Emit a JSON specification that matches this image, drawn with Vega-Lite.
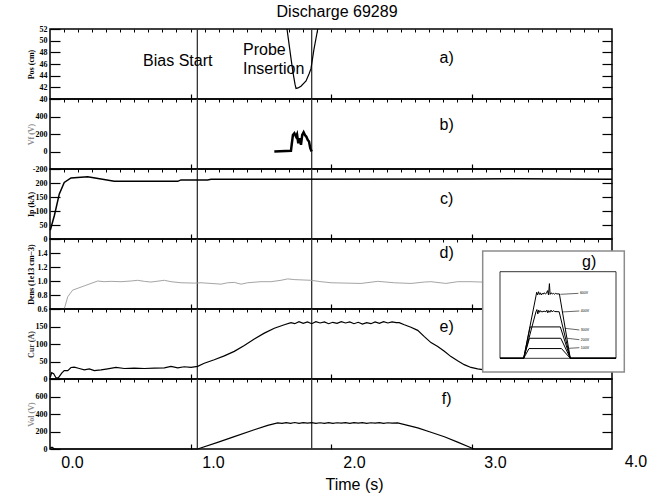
{
 "$schema": "https://vega.github.io/schema/vega-lite/v6.json",
 "background": "white",
 "padding": {"left": 26, "top": 4, "right": 5, "bottom": 3},
 "title": {"text": "Discharge 69289", "font": "Liberation Sans", "fontSize": 16, "fontWeight": "normal", "color": "black", "anchor": "middle", "offset": 4},
 "spacing": 0,
 "bounds": "flush",
 "resolve": {"scale": {"x": "independent", "y": "independent"}},
 "datasets": {
  "events": [{"event": "Bias Start", "t": 0.889}, {"event": "Probe Insertion", "t": 1.700}],
  "notes": [{"note": "Bias Start", "t": 0.504, "v": 46.54}, {"note": "Probe", "t": 1.213, "v": 48.41}, {"note": "Insertion", "t": 1.213, "v": 45.17}],
  "pos": [{"t":1.525,"v":52},{"t":1.539,"v":49.5},{"t":1.553,"v":47},{"t":1.567,"v":44.6},{"t":1.582,"v":42.5},{"t":1.589,"v":41.8},{"t":1.603,"v":41.9},{"t":1.624,"v":42.2},{"t":1.660,"v":43.1},{"t":1.681,"v":44.3},{"t":1.695,"v":45.2},{"t":1.716,"v":48.5},{"t":1.743,"v":52}],
  "vf": [{"t":1.435,"v":0},{"t":1.553,"v":8},{"t":1.558,"v":76},{"t":1.567,"v":189},{"t":1.577,"v":208},{"t":1.589,"v":170},{"t":1.596,"v":196},{"t":1.605,"v":94},{"t":1.615,"v":151},{"t":1.624,"v":76},{"t":1.633,"v":189},{"t":1.643,"v":219},{"t":1.652,"v":189},{"t":1.662,"v":170},{"t":1.672,"v":132},{"t":1.681,"v":113},{"t":1.690,"v":38},{"t":1.700,"v":0}],
  "ip": [{"t":-0.154,"v":31},{"t":-0.125,"v":84},{"t":-0.090,"v":161},{"t":-0.055,"v":202},{"t":-0.007,"v":218},{"t":0.111,"v":222},{"t":0.206,"v":214},{"t":0.300,"v":206},{"t":0.750,"v":206},{"t":0.773,"v":211},{"t":0.962,"v":211},{"t":0.986,"v":213},{"t":2.830,"v":214},{"t":3.161,"v":215},{"t":3.468,"v":214},{"t":3.830,"v":213}],
  "dens": [{"t":-0.055,"v":0.6},{"t":-0.030,"v":0.775},{"t":0.005,"v":0.87},{"t":0.087,"v":0.93},{"t":0.182,"v":1.0},{"t":0.227,"v":0.99},{"t":0.277,"v":0.995},{"t":0.348,"v":0.99},{"t":0.418,"v":1.0},{"t":0.466,"v":1.01},{"t":0.513,"v":0.995},{"t":0.560,"v":0.985},{"t":0.655,"v":1.01},{"t":0.702,"v":0.99},{"t":0.773,"v":0.975},{"t":0.867,"v":0.97},{"t":0.915,"v":0.975},{"t":0.986,"v":0.965},{"t":1.057,"v":0.955},{"t":1.104,"v":0.975},{"t":1.151,"v":0.98},{"t":1.199,"v":0.955},{"t":1.246,"v":0.975},{"t":1.340,"v":0.99},{"t":1.411,"v":0.99},{"t":1.482,"v":1.01},{"t":1.530,"v":1.03},{"t":1.577,"v":1.02},{"t":1.695,"v":1.01},{"t":1.766,"v":0.99},{"t":1.837,"v":0.975},{"t":1.943,"v":0.97},{"t":2.050,"v":0.965},{"t":2.168,"v":0.995},{"t":2.286,"v":0.975},{"t":2.404,"v":0.965},{"t":2.499,"v":0.985},{"t":2.546,"v":0.99},{"t":2.652,"v":0.965},{"t":2.735,"v":0.99},{"t":2.830,"v":0.99},{"t":2.908,"v":0.985},{"t":3.184,"v":1.0},{"t":3.468,"v":0.99},{"t":3.830,"v":1.0}],
  "cur": [{"t":-0.154,"v":5},{"t":-0.144,"v":18},{"t":-0.130,"v":15},{"t":-0.113,"v":3},{"t":-0.097,"v":3},{"t":-0.073,"v":17},{"t":-0.055,"v":24},{"t":-0.030,"v":24},{"t":-0.007,"v":33},{"t":0.016,"v":34},{"t":0.052,"v":30},{"t":0.087,"v":26},{"t":0.123,"v":29},{"t":0.158,"v":24},{"t":0.206,"v":26},{"t":0.253,"v":29},{"t":0.312,"v":33},{"t":0.371,"v":30},{"t":0.442,"v":31},{"t":0.513,"v":30},{"t":0.584,"v":31},{"t":0.655,"v":32},{"t":0.702,"v":36},{"t":0.750,"v":32},{"t":0.796,"v":35},{"t":0.844,"v":33},{"t":0.891,"v":36},{"t":0.938,"v":45},{"t":1.009,"v":55},{"t":1.080,"v":66},{"t":1.151,"v":79},{"t":1.222,"v":96},{"t":1.293,"v":114},{"t":1.364,"v":131},{"t":1.435,"v":145},{"t":1.506,"v":155},{"t":1.553,"v":161},{"t":1.58,"v":158},{"t":1.61,"v":164},{"t":1.64,"v":159},{"t":1.67,"v":163},{"t":1.70,"v":158},{"t":1.73,"v":164},{"t":1.76,"v":160},{"t":1.79,"v":163},{"t":1.82,"v":158},{"t":1.85,"v":162},{"t":1.88,"v":159},{"t":1.91,"v":164},{"t":1.94,"v":160},{"t":1.97,"v":163},{"t":2.00,"v":158},{"t":2.03,"v":162},{"t":2.06,"v":157},{"t":2.09,"v":161},{"t":2.12,"v":158},{"t":2.15,"v":163},{"t":2.18,"v":159},{"t":2.21,"v":164},{"t":2.24,"v":160},{"t":2.27,"v":163},{"t":2.30,"v":161},{"t":2.321,"v":161},{"t":2.357,"v":155},{"t":2.404,"v":148},{"t":2.452,"v":139},{"t":2.499,"v":121},{"t":2.546,"v":104},{"t":2.594,"v":93},{"t":2.641,"v":79},{"t":2.688,"v":64},{"t":2.735,"v":52},{"t":2.782,"v":41},{"t":2.830,"v":33},{"t":2.877,"v":29},{"t":2.924,"v":26},{"t":3.184,"v":24},{"t":3.645,"v":22},{"t":3.830,"v":23}],
  "vol": [{"t":-0.154,"v":10},{"t":-0.142,"v":20},{"t":-0.128,"v":5},{"t":-0.106,"v":0},{"t":0.891,"v":0},{"t":1.033,"v":75},{"t":1.151,"v":141},{"t":1.293,"v":220},{"t":1.388,"v":270},{"t":1.459,"v":298},{"t":1.49,"v":292},{"t":1.52,"v":302},{"t":1.55,"v":294},{"t":1.58,"v":303},{"t":1.61,"v":293},{"t":1.64,"v":301},{"t":1.67,"v":295},{"t":1.70,"v":302},{"t":1.73,"v":293},{"t":1.76,"v":300},{"t":1.79,"v":294},{"t":1.82,"v":302},{"t":1.85,"v":293},{"t":1.88,"v":300},{"t":1.91,"v":295},{"t":1.94,"v":302},{"t":1.97,"v":294},{"t":2.00,"v":301},{"t":2.03,"v":295},{"t":2.06,"v":302},{"t":2.09,"v":293},{"t":2.12,"v":300},{"t":2.15,"v":295},{"t":2.18,"v":302},{"t":2.21,"v":294},{"t":2.24,"v":300},{"t":2.27,"v":296},{"t":2.310,"v":298},{"t":2.452,"v":241},{"t":2.546,"v":192},{"t":2.641,"v":140},{"t":2.735,"v":79},{"t":2.830,"v":15},{"t":2.851,"v":0},{"t":3.830,"v":0}],
  "g": [
   {"s":"600V","t":0,"v":0},{"s":"600V","t":1.02,"v":0},{"s":"600V","t":1.55,"v":575},{"s":"600V","t":1.58,"v":610},{"s":"600V","t":1.62,"v":585},{"s":"600V","t":1.66,"v":615},{"s":"600V","t":1.70,"v":590},{"s":"600V","t":1.74,"v":605},{"s":"600V","t":1.78,"v":585},{"s":"600V","t":1.82,"v":600},{"s":"600V","t":1.86,"v":592},{"s":"600V","t":1.90,"v":605},{"s":"600V","t":1.95,"v":595},{"s":"600V","t":2.00,"v":600},{"s":"600V","t":2.05,"v":625},{"s":"600V","t":2.09,"v":585},{"s":"600V","t":2.13,"v":690},{"s":"600V","t":2.16,"v":590},{"s":"600V","t":2.20,"v":605},{"s":"600V","t":2.25,"v":595},{"s":"600V","t":2.30,"v":600},{"s":"600V","t":2.35,"v":592},{"s":"600V","t":2.40,"v":600},{"s":"600V","t":2.45,"v":595},{"s":"600V","t":2.56,"v":595},{"s":"600V","t":3.03,"v":0},{"s":"600V","t":5,"v":0},
   {"s":"400V","t":0,"v":0},{"s":"400V","t":1.02,"v":0},{"s":"400V","t":1.55,"v":430},{"s":"400V","t":1.59,"v":450},{"s":"400V","t":1.63,"v":410},{"s":"400V","t":1.67,"v":445},{"s":"400V","t":1.71,"v":425},{"s":"400V","t":1.75,"v":440},{"s":"400V","t":1.80,"v":428},{"s":"400V","t":1.90,"v":435},{"s":"400V","t":1.98,"v":430},{"s":"400V","t":2.02,"v":445},{"s":"400V","t":2.06,"v":420},{"s":"400V","t":2.10,"v":440},{"s":"400V","t":2.15,"v":425},{"s":"400V","t":2.20,"v":445},{"s":"400V","t":2.25,"v":428},{"s":"400V","t":2.30,"v":440},{"s":"400V","t":2.36,"v":432},{"s":"400V","t":2.55,"v":430},{"s":"400V","t":3.03,"v":0},{"s":"400V","t":5,"v":0},
   {"s":"300V","t":0,"v":0},{"s":"300V","t":1.02,"v":0},{"s":"300V","t":1.30,"v":290},{"s":"300V","t":2.60,"v":290},{"s":"300V","t":3.03,"v":0},{"s":"300V","t":5,"v":0},
   {"s":"200V","t":0,"v":0},{"s":"200V","t":1.02,"v":0},{"s":"200V","t":1.27,"v":185},{"s":"200V","t":2.62,"v":185},{"s":"200V","t":3.03,"v":0},{"s":"200V","t":5,"v":0},
   {"s":"100V","t":0,"v":0},{"s":"100V","t":1.02,"v":0},{"s":"100V","t":1.25,"v":90},{"s":"100V","t":2.65,"v":90},{"s":"100V","t":3.03,"v":0},{"s":"100V","t":5,"v":0}
  ],
  "gl": [{"label":"600V","t1":2.6,"v1":591,"t2":3.38,"v2":600},{"label":"400V","t1":2.67,"v1":428,"t2":3.42,"v2":437},{"label":"300V","t1":2.8,"v1":277,"t2":3.42,"v2":262},{"label":"200V","t1":2.89,"v1":185,"t2":3.42,"v2":172},{"label":"100V","t1":2.95,"v1":92,"t2":3.42,"v2":98}]
 },
 "vconcat": [
  {
   "width": 562, "height": 70,
   "layer": [
    {"data": {"name": "events"}, "mark": {"type": "rule", "color": "#333", "strokeWidth": 1.3},
     "encoding": {"x": {"field": "t", "type": "quantitative", "scale": {"domain": [-0.156, 3.83], "nice": false, "zero": false}, "axis": {"orient": "bottom", "values": [0.8405, 1.837, 2.8335], "labels": false, "tickSize": -5, "title": null}}}},
    {"data": {"name": "pos"}, "mark": {"type": "line", "color": "black", "strokeWidth": 1.2},
     "encoding": {"x": {"field": "t", "type": "quantitative", "scale": {"domain": [-0.156, 3.83], "nice": false, "zero": false}, "axis": {"orient": "top", "values": [-0.0564,0.0433,0.143,0.2426,0.3423,0.4419,0.5416,0.6412,0.7409,0.8405,0.9402,1.0398,1.1395,1.2391,1.3388,1.4384,1.5381,1.6377,1.7374,1.837,1.9367,2.0363,2.136,2.2356,2.3353,2.4349,2.5346,2.6342,2.7339,2.8335,2.9332,3.0328,3.1325,3.2321,3.3318,3.4314,3.5311,3.6307,3.7304], "labels": false, "tickSize": -3, "tickWidth": 1, "title": null}},
      "y": {"field": "v", "type": "quantitative", "scale": {"domain": [40, 52], "nice": false, "zero": false}, "axis": {"orient": "left", "values": [40,42,44,46,48,50,52], "labelExpr": "datum.value + ''", "tickSize": -10, "labelPadding": 13, "title": "Pos (cm)", "titleX": -19, "titleY": 35, "titleAngle": 270, "titleAlign": "center", "titleBaseline": "middle"}}}},
    {"data": {"name": "notes"}, "mark": {"type": "text", "align": "left", "baseline": "middle"},
     "encoding": {"x": {"field": "t", "type": "quantitative", "scale": {"domain": [-0.156, 3.83], "nice": false, "zero": false}, "axis": null},
      "y": {"field": "v", "type": "quantitative", "scale": {"domain": [40, 52], "nice": false, "zero": false}, "axis": null}, "text": {"field": "note"}}},
    {"data": {"values": [{}]}, "mark": {"type": "text", "align": "center", "baseline": "middle"},
     "encoding": {"x": {"datum": 2.657, "type": "quantitative", "scale": {"domain": [-0.156, 3.83], "nice": false, "zero": false}, "axis": null},
      "y": {"datum": 47.05, "type": "quantitative", "scale": {"domain": [40, 52], "nice": false, "zero": false}, "axis": {"orient": "right", "values": [42,44,46,48,50], "labels": false, "tickSize": -10, "title": null}}, "text": {"value": "a)"}}}
   ],
   "resolve": {"axis": {"x": "independent", "y": "independent"}}
  },
  {
   "width": 562, "height": 70,
   "layer": [
    {"data": {"name": "events"}, "mark": {"type": "rule", "color": "#333", "strokeWidth": 1.3},
     "encoding": {"x": {"field": "t", "type": "quantitative", "scale": {"domain": [-0.156, 3.83], "nice": false, "zero": false}, "axis": {"orient": "bottom", "values": [0.8405, 1.837, 2.8335], "labels": false, "tickSize": -5, "title": null}}}},
    {"data": {"name": "vf"}, "mark": {"type": "line", "color": "black", "strokeWidth": 2.5},
     "encoding": {"x": {"field": "t", "type": "quantitative", "scale": {"domain": [-0.156, 3.83], "nice": false, "zero": false}, "axis": {"orient": "top", "values": [-0.0564,0.0433,0.143,0.2426,0.3423,0.4419,0.5416,0.6412,0.7409,0.8405,0.9402,1.0398,1.1395,1.2391,1.3388,1.4384,1.5381,1.6377,1.7374,1.837,1.9367,2.0363,2.136,2.2356,2.3353,2.4349,2.5346,2.6342,2.7339,2.8335,2.9332,3.0328,3.1325,3.2321,3.3318,3.4314,3.5311,3.6307,3.7304], "labels": false, "tickSize": -3, "tickWidth": 1, "title": null}},
      "y": {"field": "v", "type": "quantitative", "scale": {"domain": [-200, 600], "nice": false, "zero": false}, "axis": {"orient": "left", "values": [-200,0,200,400], "labelExpr": "datum.value + ''", "tickSize": -10, "labelPadding": 13, "title": "Vf (V)", "titleColor": "#8a8a8a", "titleX": -19, "titleY": 35, "titleAngle": 270, "titleAlign": "center", "titleBaseline": "middle"}}}},
    {"data": {"values": [{}]}, "mark": {"type": "text", "align": "center", "baseline": "middle"},
     "encoding": {"x": {"datum": 2.657, "type": "quantitative", "scale": {"domain": [-0.156, 3.83], "nice": false, "zero": false}, "axis": null},
      "y": {"datum": 308, "type": "quantitative", "scale": {"domain": [-200, 600], "nice": false, "zero": false}, "axis": {"orient": "right", "values": [0,200,400], "labels": false, "tickSize": -10, "title": null}}, "text": {"value": "b)"}}}
   ],
   "resolve": {"axis": {"x": "independent", "y": "independent"}}
  },
  {
   "width": 562, "height": 70,
   "layer": [
    {"data": {"name": "events"}, "mark": {"type": "rule", "color": "#333", "strokeWidth": 1.3},
     "encoding": {"x": {"field": "t", "type": "quantitative", "scale": {"domain": [-0.156, 3.83], "nice": false, "zero": false}, "axis": {"orient": "bottom", "values": [0.8405, 1.837, 2.8335], "labels": false, "tickSize": -5, "title": null}}}},
    {"data": {"name": "ip"}, "mark": {"type": "line", "color": "black", "strokeWidth": 1.5},
     "encoding": {"x": {"field": "t", "type": "quantitative", "scale": {"domain": [-0.156, 3.83], "nice": false, "zero": false}, "axis": {"orient": "top", "values": [-0.0564,0.0433,0.143,0.2426,0.3423,0.4419,0.5416,0.6412,0.7409,0.8405,0.9402,1.0398,1.1395,1.2391,1.3388,1.4384,1.5381,1.6377,1.7374,1.837,1.9367,2.0363,2.136,2.2356,2.3353,2.4349,2.5346,2.6342,2.7339,2.8335,2.9332,3.0328,3.1325,3.2321,3.3318,3.4314,3.5311,3.6307,3.7304], "labels": false, "tickSize": -3, "tickWidth": 1, "title": null}},
      "y": {"field": "v", "type": "quantitative", "scale": {"domain": [0, 250], "nice": false, "zero": false}, "axis": {"orient": "left", "values": [0,50,100,150,200], "labelExpr": "datum.value + ''", "tickSize": -10, "labelPadding": 13, "title": "Ip (kA)", "titleX": -19, "titleY": 35, "titleAngle": 270, "titleAlign": "center", "titleBaseline": "middle"}}}},
    {"data": {"values": [{}]}, "mark": {"type": "text", "align": "center", "baseline": "middle"},
     "encoding": {"x": {"datum": 2.657, "type": "quantitative", "scale": {"domain": [-0.156, 3.83], "nice": false, "zero": false}, "axis": null},
      "y": {"datum": 142, "type": "quantitative", "scale": {"domain": [0, 250], "nice": false, "zero": false}, "axis": {"orient": "right", "values": [50,100,150,200], "labels": false, "tickSize": -10, "title": null}}, "text": {"value": "c)"}}}
   ],
   "resolve": {"axis": {"x": "independent", "y": "independent"}}
  },
  {
   "width": 562, "height": 70,
   "layer": [
    {"data": {"name": "events"}, "mark": {"type": "rule", "color": "#333", "strokeWidth": 1.3},
     "encoding": {"x": {"field": "t", "type": "quantitative", "scale": {"domain": [-0.156, 3.83], "nice": false, "zero": false}, "axis": {"orient": "bottom", "values": [0.8405, 1.837, 2.8335], "labels": false, "tickSize": -5, "title": null}}}},
    {"data": {"name": "dens"}, "mark": {"type": "line", "color": "#9a9a9a", "strokeWidth": 0.9},
     "encoding": {"x": {"field": "t", "type": "quantitative", "scale": {"domain": [-0.156, 3.83], "nice": false, "zero": false}, "axis": {"orient": "top", "values": [-0.0564,0.0433,0.143,0.2426,0.3423,0.4419,0.5416,0.6412,0.7409,0.8405,0.9402,1.0398,1.1395,1.2391,1.3388,1.4384,1.5381,1.6377,1.7374,1.837,1.9367,2.0363,2.136,2.2356,2.3353,2.4349,2.5346,2.6342,2.7339,2.8335,2.9332,3.0328,3.1325,3.2321,3.3318,3.4314,3.5311,3.6307,3.7304], "labels": false, "tickSize": -3, "tickWidth": 1, "title": null}},
      "y": {"field": "v", "type": "quantitative", "scale": {"domain": [0.6, 1.6], "nice": false, "zero": false}, "axis": {"orient": "left", "values": [0.6,0.8,1.0,1.2,1.4], "labelExpr": "format(datum.value, '.1f')", "tickSize": -10, "labelPadding": 13, "title": "Dens (1e13 cm−3)", "titleX": -19, "titleY": 35, "titleAngle": 270, "titleAlign": "center", "titleBaseline": "middle"}}}},
    {"data": {"values": [{}]}, "mark": {"type": "text", "align": "center", "baseline": "middle"},
     "encoding": {"x": {"datum": 2.657, "type": "quantitative", "scale": {"domain": [-0.156, 3.83], "nice": false, "zero": false}, "axis": null},
      "y": {"datum": 1.40, "type": "quantitative", "scale": {"domain": [0.6, 1.6], "nice": false, "zero": false}, "axis": {"orient": "right", "values": [0.8,1.0,1.2,1.4], "labels": false, "tickSize": -10, "title": null}}, "text": {"value": "d)"}}}
   ],
   "resolve": {"axis": {"x": "independent", "y": "independent"}}
  },
  {
   "width": 562, "height": 70,
   "layer": [
    {
     "layer": [
      {"data": {"name": "events"}, "mark": {"type": "rule", "color": "#333", "strokeWidth": 1.3},
       "encoding": {"x": {"field": "t", "type": "quantitative", "scale": {"domain": [-0.156, 3.83], "nice": false, "zero": false}, "axis": {"orient": "bottom", "values": [0.8405, 1.837, 2.8335], "labels": false, "tickSize": -5, "title": null}}}},
      {"data": {"name": "cur"}, "mark": {"type": "line", "color": "black", "strokeWidth": 1.2},
       "encoding": {"x": {"field": "t", "type": "quantitative", "scale": {"domain": [-0.156, 3.83], "nice": false, "zero": false}, "axis": {"orient": "top", "values": [-0.0564,0.0433,0.143,0.2426,0.3423,0.4419,0.5416,0.6412,0.7409,0.8405,0.9402,1.0398,1.1395,1.2391,1.3388,1.4384,1.5381,1.6377,1.7374,1.837,1.9367,2.0363,2.136,2.2356,2.3353,2.4349,2.5346,2.6342,2.7339,2.8335,2.9332,3.0328,3.1325,3.2321,3.3318,3.4314,3.5311,3.6307,3.7304], "labels": false, "tickSize": -3, "tickWidth": 1, "title": null}},
        "y": {"field": "v", "type": "quantitative", "scale": {"domain": [0, 200], "nice": false, "zero": false}, "axis": {"orient": "left", "values": [0,50,100,150], "labelExpr": "datum.value + ''", "tickSize": -10, "labelPadding": 13, "title": "Cur (A)", "titleColor": "#333", "titleX": -19, "titleY": 35, "titleAngle": 270, "titleAlign": "center", "titleBaseline": "middle"}}}},
      {"data": {"values": [{}]}, "mark": {"type": "text", "align": "center", "baseline": "middle"},
       "encoding": {"x": {"datum": 2.657, "type": "quantitative", "scale": {"domain": [-0.156, 3.83], "nice": false, "zero": false}, "axis": null},
        "y": {"datum": 149, "type": "quantitative", "scale": {"domain": [0, 200], "nice": false, "zero": false}, "axis": {"orient": "right", "values": [50,100,150], "labels": false, "tickSize": -10, "title": null}}, "text": {"value": "e)"}}}
     ],
     "resolve": {"axis": {"x": "independent", "y": "independent"}}
    },
    {
     "layer": [
      {"data": {"values": [{}]}, "mark": {"type": "rect", "fill": "white", "stroke": "#8c8c8c", "strokeWidth": 1.5},
       "encoding": {"x": {"datum": -0.746, "type": "quantitative", "scale": {"domain": [0, 5], "range": [450, 566], "nice": false, "zero": false}, "axis": null}, "x2": {"datum": 5.358},
        "y": {"datum": -126.6, "type": "quantitative", "scale": {"domain": [0, 800], "range": [49.3, -37.3], "nice": false, "zero": false}, "axis": null}, "y2": {"datum": 991}}},
      {"data": {"values": [{}]}, "mark": {"type": "rect", "filled": false, "fill": "transparent", "stroke": "black", "strokeWidth": 0.8},
       "encoding": {"x": {"datum": 0, "type": "quantitative", "scale": {"domain": [0, 5], "range": [450, 566], "nice": false, "zero": false}, "axis": null}, "x2": {"datum": 5},
        "y": {"datum": 0, "type": "quantitative", "scale": {"domain": [0, 800], "range": [49.3, -37.3], "nice": false, "zero": false}, "axis": null}, "y2": {"datum": 800}}},
      {"data": {"name": "g"}, "mark": {"type": "line", "color": "black", "strokeWidth": 1},
       "encoding": {"x": {"field": "t", "type": "quantitative", "scale": {"domain": [0, 5], "range": [450, 566], "nice": false, "zero": false},
         "axis": {"orient": "bottom", "offset": -20.7, "zindex": 2, "values": [0,1,2,3,4,5], "format": "d", "tickSize": -2, "tickWidth": 0.6, "labelPadding": 3, "labelFont": "Liberation Sans", "labelFontWeight": "normal", "labelFontSize": 4, "labelColor": "#444", "title": "Time (s)", "titleFont": "Liberation Sans", "titleFontWeight": "normal", "titleFontSize": 4, "titleColor": "#444", "titlePadding": 1}},
        "y": {"field": "v", "type": "quantitative", "scale": {"domain": [0, 800], "range": [49.3, -37.3], "nice": false, "zero": false},
         "axis": {"orient": "left", "offset": -450, "zindex": 2, "values": [0,200,400,600,800], "format": "d", "tickSize": -2, "tickWidth": 0.6, "labelPadding": 4, "labelFont": "Liberation Sans", "labelFontWeight": "normal", "labelFontSize": 4, "labelColor": "#444", "title": "Shot bias Voltage (V)", "titleFont": "Liberation Sans", "titleFontWeight": "normal", "titleFontSize": 4, "titleColor": "#444", "titleX": -14, "titleY": 6, "titleAngle": 270, "titleAlign": "center", "titleBaseline": "middle"}},
        "detail": {"field": "s"}}},
      {"data": {"name": "gl"}, "mark": {"type": "rule", "color": "black", "strokeWidth": 0.6},
       "encoding": {"x": {"field": "t1", "type": "quantitative", "scale": {"domain": [0, 5], "range": [450, 566], "nice": false, "zero": false}, "axis": null}, "x2": {"field": "t2"},
        "y": {"field": "v1", "type": "quantitative", "scale": {"domain": [0, 800], "range": [49.3, -37.3], "nice": false, "zero": false}, "axis": null}, "y2": {"field": "v2"}}},
      {"data": {"name": "gl"}, "mark": {"type": "text", "align": "left", "baseline": "middle", "fontSize": 3.5, "dx": 1.5, "color": "black"},
       "encoding": {"x": {"field": "t2", "type": "quantitative", "scale": {"domain": [0, 5], "range": [450, 566], "nice": false, "zero": false}, "axis": null},
        "y": {"field": "v2", "type": "quantitative", "scale": {"domain": [0, 800], "range": [49.3, -37.3], "nice": false, "zero": false}, "axis": null}, "text": {"field": "label"}}},
      {"data": {"values": [{}]}, "mark": {"type": "text", "align": "center", "baseline": "middle"},
       "encoding": {"x": {"datum": 3.84, "type": "quantitative", "scale": {"domain": [0, 5], "range": [450, 566], "nice": false, "zero": false}, "axis": null},
        "y": {"datum": 890, "type": "quantitative", "scale": {"domain": [0, 800], "range": [49.3, -37.3], "nice": false, "zero": false}, "axis": null}, "text": {"value": "g)"}}}
     ]
    }
   ],
   "resolve": {"scale": {"x": "independent", "y": "independent"}}
  },
  {
   "width": 562, "height": 70,
   "layer": [
    {"data": {"name": "events"}, "mark": {"type": "rule", "color": "#333", "strokeWidth": 1.3},
     "encoding": {"x": {"field": "t", "type": "quantitative", "scale": {"domain": [-0.156, 3.83], "nice": false, "zero": false}, "axis": {"orient": "bottom", "values": [0.8405, 1.837, 2.8335], "labels": false, "tickSize": -5, "title": null}}}},
    {"data": {"name": "vol"}, "mark": {"type": "line", "color": "black", "strokeWidth": 1.2},
     "encoding": {"x": {"field": "t", "type": "quantitative", "scale": {"domain": [-0.156, 3.83], "nice": false, "zero": false}, "axis": {"orient": "top", "values": [-0.0564,0.0433,0.143,0.2426,0.3423,0.4419,0.5416,0.6412,0.7409,0.8405,0.9402,1.0398,1.1395,1.2391,1.3388,1.4384,1.5381,1.6377,1.7374,1.837,1.9367,2.0363,2.136,2.2356,2.3353,2.4349,2.5346,2.6342,2.7339,2.8335,2.9332,3.0328,3.1325,3.2321,3.3318,3.4314,3.5311,3.6307,3.7304], "labels": false, "tickSize": -3, "tickWidth": 1, "title": null}},
      "y": {"field": "v", "type": "quantitative", "scale": {"domain": [0, 800], "nice": false, "zero": false}, "axis": {"orient": "left", "values": [0,200,400,600], "labelExpr": "datum.value + ''", "tickSize": -10, "labelPadding": 13, "title": "Vol (V)", "titleColor": "#8a8a8a", "titleX": -19, "titleY": 35, "titleAngle": 270, "titleAlign": "center", "titleBaseline": "middle"}}}},
    {"data": {"values": [{}]}, "mark": {"type": "text", "align": "center", "baseline": "middle"},
     "encoding": {"x": {"datum": 2.657, "type": "quantitative", "scale": {"domain": [-0.156, 3.83], "nice": false, "zero": false},
       "axis": {"orient": "bottom", "values": [0,1,2,3], "format": ".1f", "ticks": false, "labelPadding": 5, "labelBaseline": "top", "labelFont": "Liberation Sans", "labelFontWeight": "normal", "labelFontSize": 16, "title": "Time (s)", "titleFont": "Liberation Sans", "titleFontWeight": "normal", "titleFontSize": 16, "titleX": 304, "titleY": 27, "titleBaseline": "top", "titleAlign": "center", "titleAngle": 0}},
      "y": {"datum": 567, "type": "quantitative", "scale": {"domain": [0, 800], "nice": false, "zero": false}, "axis": {"orient": "right", "values": [200,400,600], "labels": false, "tickSize": -10, "title": null}}, "text": {"value": "f)"}}},
    {"data": {"values": [{}]}, "mark": {"type": "text", "align": "center", "baseline": "top", "dy": 5},
     "encoding": {"x": {"datum": 4.0, "type": "quantitative", "scale": {"domain": [-0.156, 3.83], "nice": false, "zero": false}, "axis": null},
      "y": {"datum": 0, "type": "quantitative", "scale": {"domain": [0, 800], "nice": false, "zero": false}, "axis": null}, "text": {"value": "4.0"}}}
   ],
   "resolve": {"axis": {"x": "independent", "y": "independent"}}
  }
 ],
 "config": {
  "view": {"stroke": "black", "strokeWidth": 1.5},
  "axis": {"domain": false, "grid": false, "tickColor": "black", "tickWidth": 1.2, "labelFont": "Liberation Serif", "labelFontWeight": "bold", "labelFontSize": 8, "labelColor": "black", "labelOverlap": false, "labelBound": false, "titleFont": "Liberation Serif", "titleFontWeight": "bold", "titleFontSize": 8, "titleColor": "black"},
  "text": {"font": "Liberation Sans", "fontSize": 16, "color": "black"}
 }
}
